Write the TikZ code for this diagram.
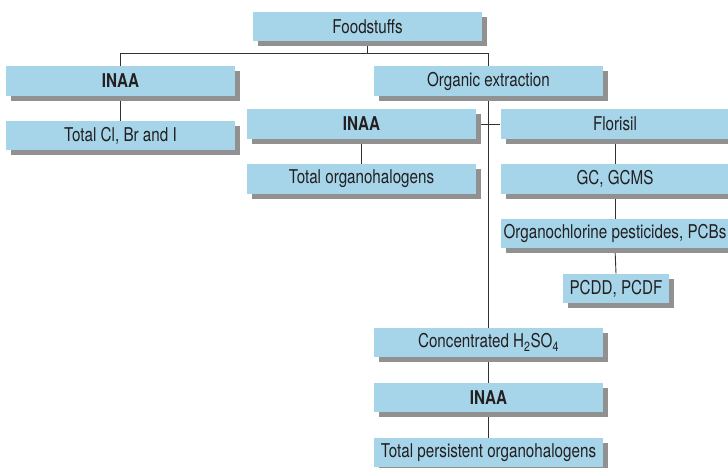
\documentclass[tikz,border=0pt]{standalone}
\usepackage{fontspec}
\setmainfont{TeX Gyre Heros}[FakeStretch=0.8]
\usetikzlibrary{shadows,backgrounds}
\definecolor{boxblue}{RGB}{166,213,234}
\definecolor{linegray}{RGB}{50,50,50}
\definecolor{txtgray}{RGB}{35,31,32}
\definecolor{shadegray}{RGB}{145,145,145}

\begin{document}
\begin{tikzpicture}[x=1pt, y=-1pt, font=\fontsize{19}{21}\selectfont, text=txtgray,
  stepbox/.style={fill=boxblue, inner sep=0pt, minimum width=229pt, minimum height=29.5pt,
    drop shadow={shadow xshift=5pt, shadow yshift=-5pt, fill=shadegray, opacity=1}},
  boldbox/.style={stepbox, font=\fontsize{19}{21}\selectfont\bfseries},
  link/.style={draw=linegray, line width=0.9pt}]
\useasboundingbox (0,0) rectangle (728,468);
% top level
\node[stepbox] (food) at (367.5,26.5) {Foodstuffs};
\node[boldbox] (inaaL) at (120.5,81) {INAA};
\node[stepbox] (totcl) at (120.5,135.5) {Total Cl, Br and I};
\node[stepbox] (orgx) at (488.5,81) {Organic extraction};
% middle branch
\node[boldbox] (inaaM) at (361.5,124) {INAA};
\node[stepbox] (totorg) at (361.5,179) {Total organohalogens};
\node[stepbox] (flor) at (615,124) {Florisil};
\node[stepbox] (gc) at (615,179) {GC, GCMS};
\node[stepbox] (ocp) at (615,233.5) {Organochlorine pesticides, PCBs};
\node[stepbox, minimum width=106pt] (pcdd) at (616,288.5) {PCDD, PCDF};
% trunk
\node[stepbox] (conc) at (488.5,342.5) {Concentrated H\textsubscript{2}SO\textsubscript{4}};
\node[boldbox] (inaaB) at (488.5,397.5) {INAA};
\node[stepbox] (totp) at (488.5,452.5) {Total persistent organohalogens};
\begin{scope}[on background layer]
\draw[link] (food.south) -- ++(0,12) coordinate (split);
\draw[link] (inaaL.north) |- (split) -| (orgx.north);
\draw[link] (inaaL.south) -- (totcl.north);
\draw[link] (orgx.south) -- (conc.north);
\draw[link] (inaaM.east) -- (flor.west);
\draw[link] (inaaM.south) -- (totorg.north);
\draw[link] (flor.south) -- (gc.north);
\draw[link] (gc.south) -- (ocp.north);
\draw[link] (ocp.south) -- (pcdd.north);
\draw[link] (conc.south) -- (inaaB.north);
\draw[link] (inaaB.south) -- (totp.north);
\end{scope}
\end{tikzpicture}
\end{document}
